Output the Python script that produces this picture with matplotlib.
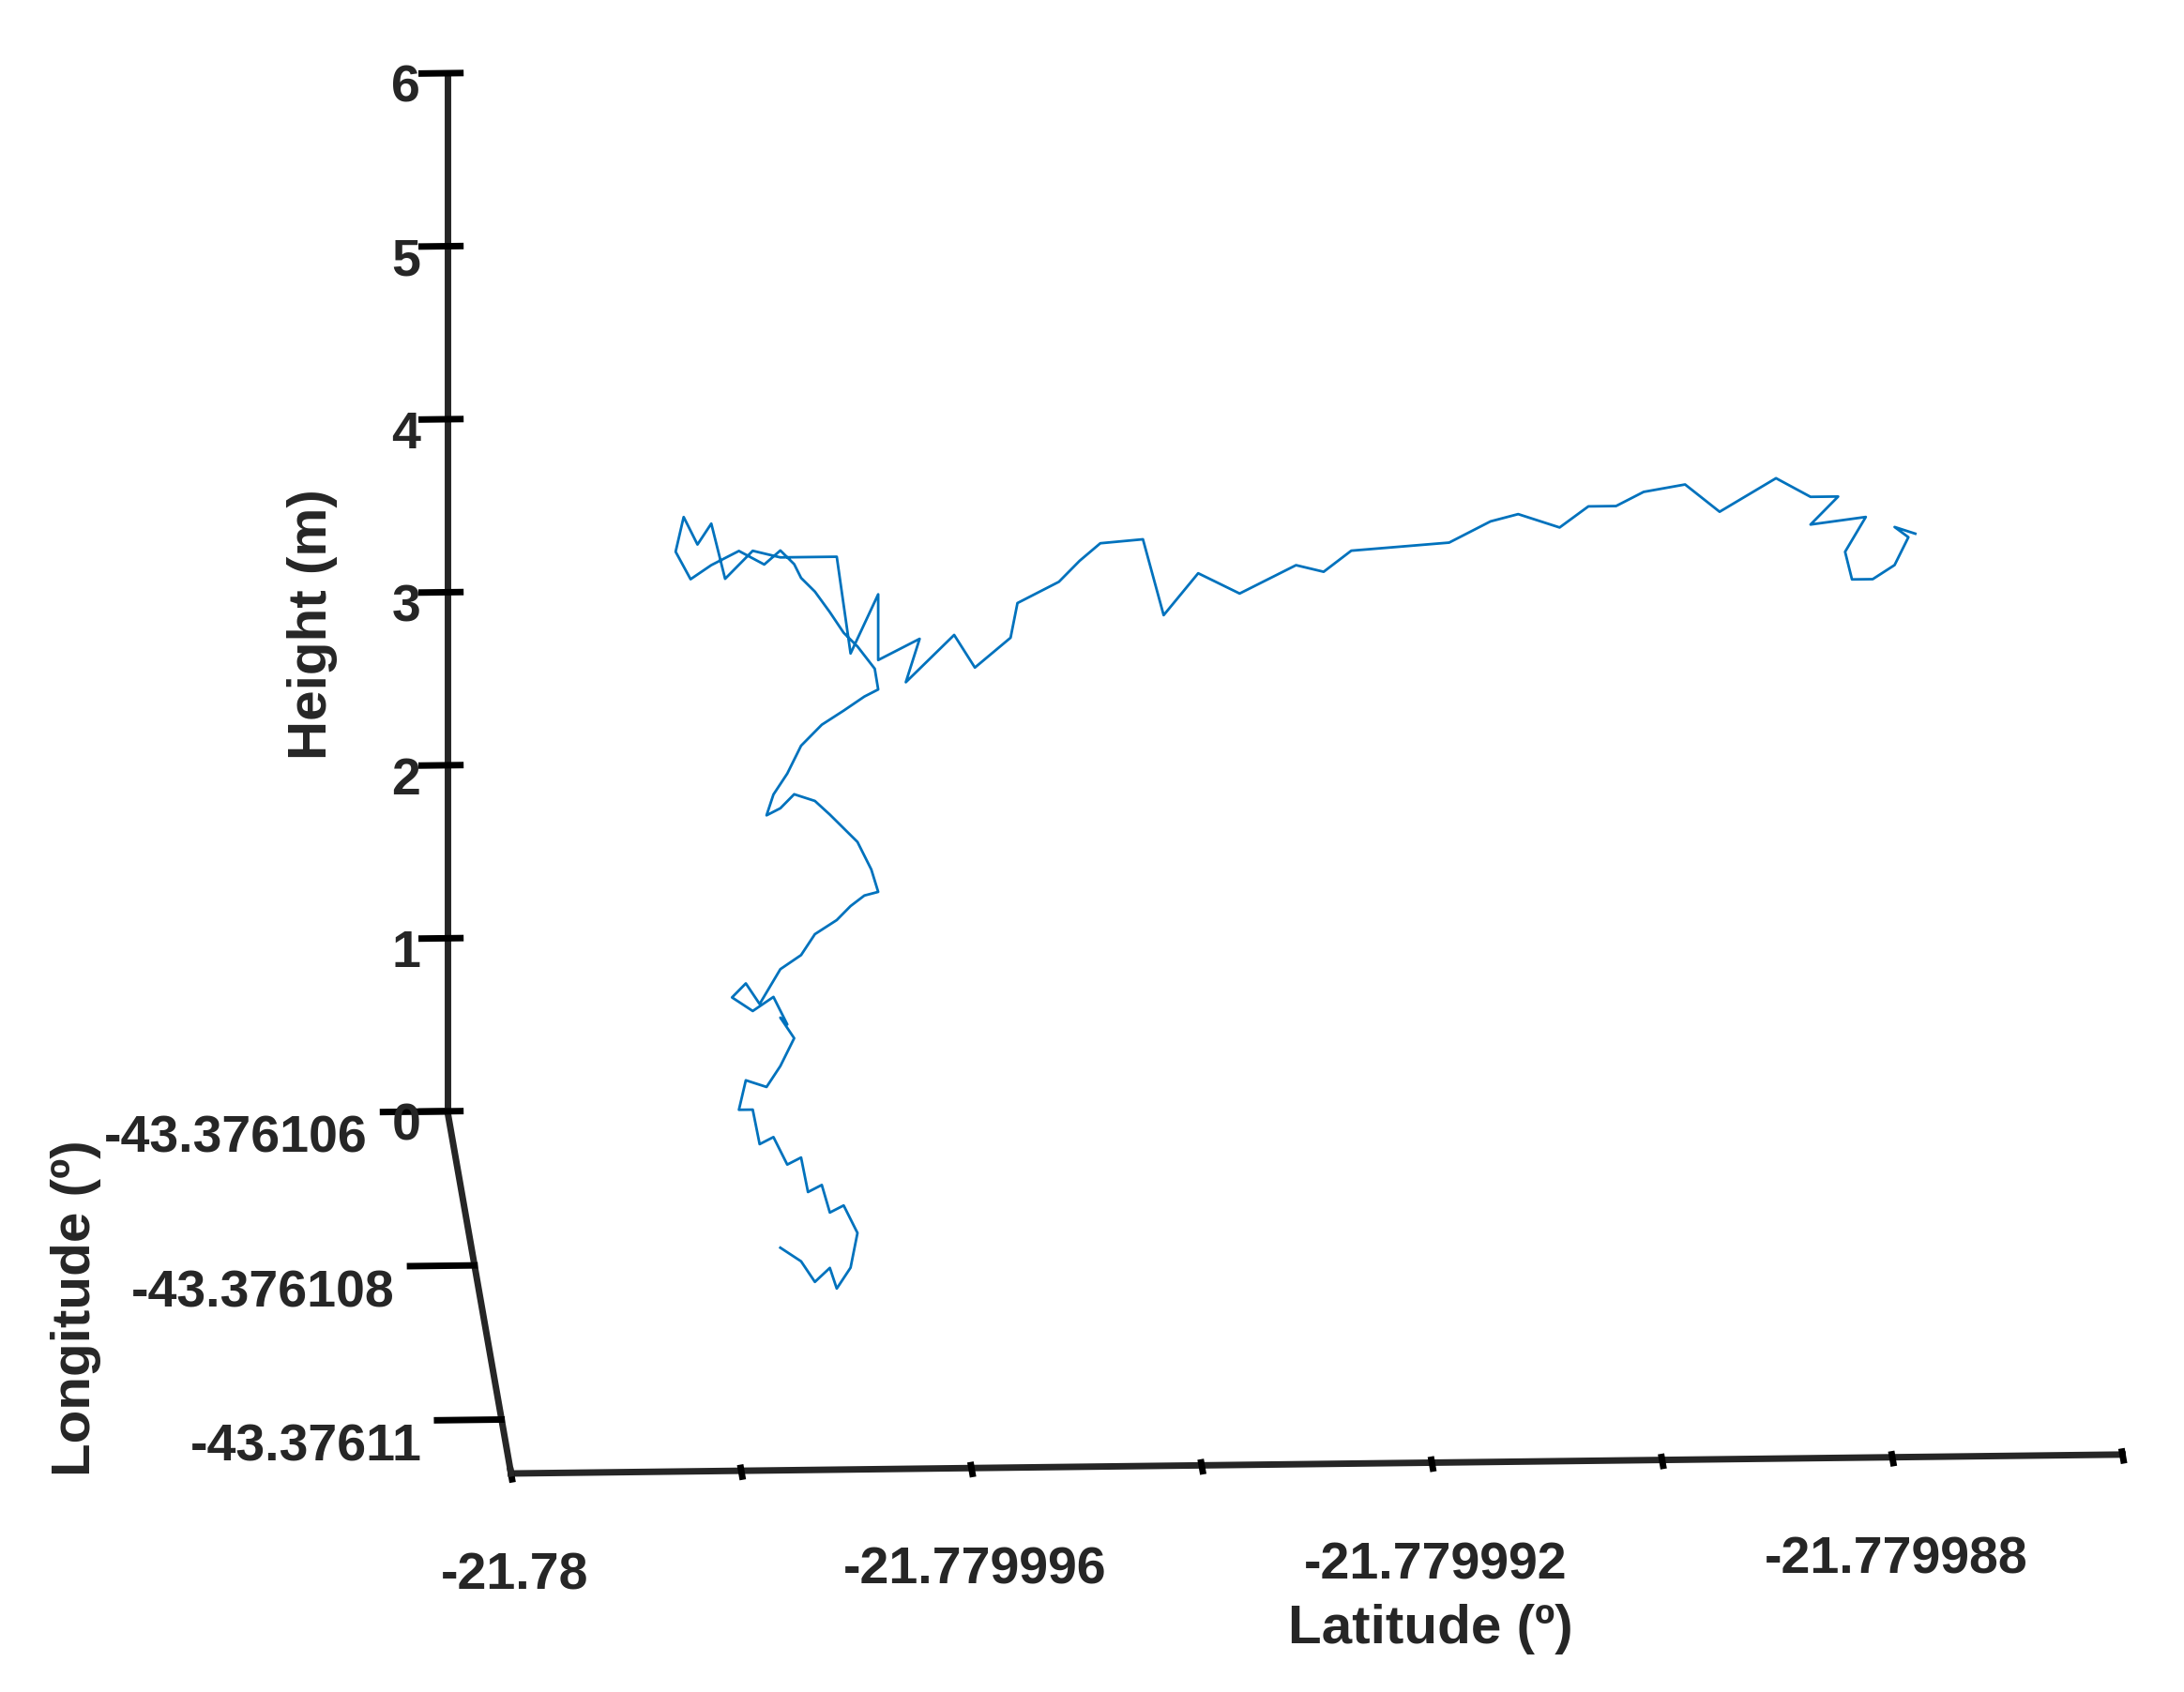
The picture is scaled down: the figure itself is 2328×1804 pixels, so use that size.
import numpy as np
import matplotlib
matplotlib.use('Agg')
import matplotlib.pyplot as plt
from mpl_toolkits.mplot3d import Axes3D  # noqa

plt.rcParams['font.family'] = ['Liberation Sans', 'DejaVu Sans']

# latitude offsets from -21.78 in micro-degrees
lat_off = [2.61, 2.79, 2.91, 3.04, 3.10, 3.22, 3.28, 3.16, 3.04, 2.97, 2.85, 2.79, 2.67, 2.55,
           2.43, 2.37, 2.25, 2.31, 2.49, 2.61, 2.73, 2.61, 2.67, 2.55, 2.37, 2.19, 2.31, 2.43,
           2.61, 2.79, 2.91, 3.10, 3.22, 3.34, 3.46, 3.40, 3.28, 3.16, 3.04, 2.91, 2.73, 2.61,
           2.49, 2.55, 2.67, 2.79, 2.97, 3.16, 3.34, 3.46, 3.43, 3.28, 3.16, 3.04, 2.91, 2.79,
           2.73, 2.61, 2.47, 2.25, 2.01, 1.83, 1.70, 1.77, 1.89, 2.01, 2.13, 2.37, 2.61, 3.10,
           3.22, 3.46, 3.46, 3.82, 3.70, 4.12, 4.30, 4.61, 4.67, 5.03, 5.21, 5.39, 5.76, 5.94,
           6.24, 6.60, 7.09, 7.33, 7.57, 8.42, 8.78, 9.02, 9.38, 9.63, 9.87, 10.11, 10.47, 10.77,
           11.26, 11.56, 11.80, 11.56, 12.04, 11.86, 11.92, 12.10, 12.29, 12.41, 12.29, 12.47]
height = [0.26, 0.18, 0.06, 0.14, 0.02, 0.14, 0.34, 0.50, 0.46, 0.62, 0.58, 0.78, 0.74, 0.90,
          0.86, 1.06, 1.06, 1.23, 1.19, 1.31, 1.47, 1.59, 1.55, 1.71, 1.63, 1.71, 1.79, 1.67,
          1.87, 1.95, 2.07, 2.15, 2.23, 2.29, 2.31, 2.44, 2.60, 2.68, 2.76, 2.84, 2.88, 2.80,
          2.76, 2.88, 3.00, 3.16, 3.28, 3.36, 3.44, 3.48, 3.60, 3.73, 3.81, 3.93, 4.05, 4.13,
          4.21, 4.29, 4.21, 4.29, 4.21, 4.13, 4.29, 4.49, 4.33, 4.45, 4.13, 4.29, 4.25, 4.25,
          3.69, 4.03, 3.65, 3.77, 3.52, 3.79, 3.60, 3.77, 3.97, 4.09, 4.21, 4.31, 4.33, 3.89,
          4.13, 4.01, 4.17, 4.13, 4.25, 4.29, 4.41, 4.45, 4.37, 4.49, 4.49, 4.57, 4.61, 4.45,
          4.64, 4.53, 4.53, 4.37, 4.41, 4.21, 4.05, 4.05, 4.13, 4.29, 4.35, 4.31]
lon_track = -43.3761084

lat = -21.78 + np.array(lat_off) * 1e-6
lon = np.full(len(lat), lon_track)

lat_ticks = [-21.78 + k * 2e-6 for k in range(8)]
lat_labels = ['-21.78', '', '-21.779996', '', '-21.779992', '', '-21.779988', '']
lon_ticks = [-43.37611, -43.376108, -43.376106]
lon_labels = ['-43.37611', '-43.376108', '-43.376106']
z_ticks = [0, 1, 2, 3, 4, 5, 6]

fig = plt.figure(figsize=(11.64, 9.02), dpi=200)
ax = fig.add_axes([-0.112, -0.156, 1.372, 1.372], projection='3d')
ax.set_proj_type('ortho')
ax.view_init(elev=15, azim=-92.6)
ax.set_box_aspect((1157, 1005, 771))

ax.plot(lat, lon, height, color='#0072BD', linewidth=1.0)

ax.set_xlim(-21.78, -21.779986)
ax.set_ylim(-43.3761107, -43.376106)
ax.set_zlim(0, 6)
ax.set_xticks(lat_ticks)
ax.set_xticklabels(lat_labels)
ax.set_yticks(lon_ticks)
ax.set_yticklabels(lon_labels, ha='right', va='bottom')
ax.set_zticks(z_ticks)

for a in (ax.xaxis, ax.yaxis, ax.zaxis):
    a.set_pane_color((1, 1, 1, 0))
    a.line.set_color('#262626')
    a.line.set_linewidth(2.5)
    a._axinfo['tick']['color'] = '#262626'
    a._axinfo['tick']['linewidth'] = {True: 2.5, False: 1}
ax.yaxis._axinfo['tick']['inward_factor'] = 0.5
ax.yaxis._axinfo['tick']['outward_factor'] = 0.0
ax.grid(False)
ax.tick_params(labelsize=20)
ax.tick_params(axis='x', pad=18)
ax.tick_params(axis='y', pad=15)
for lab in ax.get_xticklabels() + ax.get_yticklabels() + ax.get_zticklabels():
    lab.set_fontweight('bold')
    lab.set_color('#262626')

fig.text(0.655, 0.037, 'Latitude (º)', fontsize=21, fontweight='bold',
         color='#262626', ha='center', va='center')
fig.text(0.035, 0.227, 'Longitude (º)', fontsize=21, fontweight='bold',
         color='#262626', ha='center', va='center', rotation=90)
fig.text(0.143, 0.631, 'Height (m)', fontsize=21, fontweight='bold',
         color='#262626', ha='center', va='center', rotation=90)

plt.savefig('out.png', dpi=200)
